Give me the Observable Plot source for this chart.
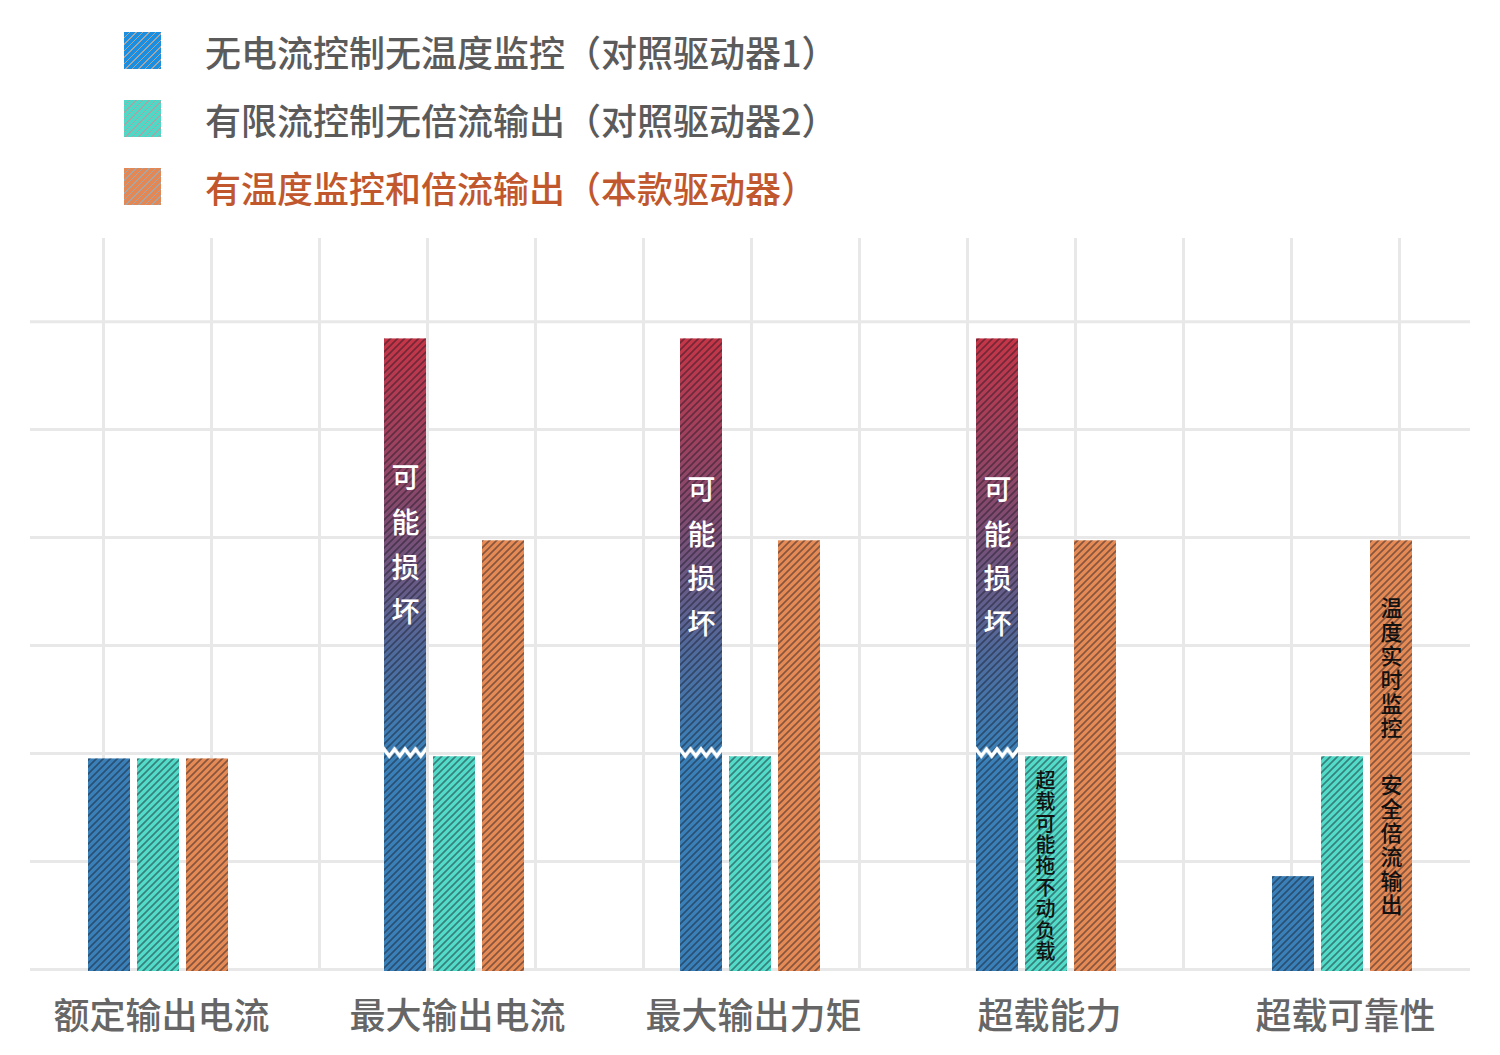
<!DOCTYPE html>
<html><head><meta charset="utf-8">
<script src="https://cdn.jsdelivr.net/npm/d3@7"></script>
<script src="https://cdn.jsdelivr.net/npm/@observablehq/plot@0.6"></script>
<style>
body{margin:0;background:#fff;font-family:"Noto Sans CJK SC","Noto Sans",sans-serif;}
#wrap{position:relative;width:1500px;height:1055px;overflow:hidden;}
.item{position:absolute;left:124px;height:37px;display:flex;align-items:center;white-space:nowrap;}
.sw{width:37px;height:37px;flex:none;}
.lab{margin-left:44px;font-size:36px;font-weight:500;color:#5b5b5b;}
.plot{position:absolute;left:0;top:225px;}
</style></head>
<body><div id="wrap"></div>
<script>
// ---- data ----
const categories = ["额定输出电流","最大输出电流","最大输出力矩","超载能力","超载可靠性"];
const seriesNames = ["无电流控制无温度监控（对照驱动器1）","有限流控制无倍流输出（对照驱动器2）","有温度监控和倍流输出（本款驱动器）"];
const seriesColors = ["#3a80b8","#52dbc8","#e58a55"];
const legendColors = ["#1a8ee0","#4fd8c6","#e38754"];
const legendTextColors = ["#5b5b5b","#5b5b5b","#c1572d"];
const driver1 = [1.95, 2.0, 2.0, 2.0, 0.86];
const driver1Risk = [null, 5.84, 5.84, 5.84, null];
const driver2 = [1.95, 1.97, 1.97, 1.97, 1.97];
const driver3 = [1.95, 3.97, 3.97, 3.97, 3.97];
const riskLabel = "可能损坏";
const riskLabelY = [null, 3.97, 3.86, 3.86, null];
const overloadNote = "超载可能拖不动负载";
const overloadNoteY = 0.954;
const reliabilityNotes = ["温度实时监控","安全倍流输出"];
const reliabilityNotesY = [2.79, 1.148];
const gridX = d3.range(0, 13);
const gridY = d3.range(0, 7);
const yMax = 6.77;

// ---- legend ----
const wrap = document.getElementById("wrap");
seriesNames.forEach((name, i) => {
  const it = document.createElement("div");
  it.className = "item";
  it.style.top = (32 + i * 68) + "px";
  const sw = document.createElement("div");
  sw.className = "sw";
  sw.style.background = `repeating-linear-gradient(135deg, ${legendColors[i]} 0px, ${legendColors[i]} 3.6px, rgba(0,0,0,0.35) 3.6px, rgba(0,0,0,0.35) 4.6px)`;
  const lab = document.createElement("div");
  lab.className = "lab";
  lab.textContent = name;
  lab.style.color = legendTextColors[i];
  it.append(sw, lab);
  wrap.append(it);
});

// ---- layout constants ----
const W = 1500, H = 830, mTop = 13, mBottom = 86;
const step = (W - 20) / categories.length, bw = 42, offs = [-49, 0, 49];
const ins = s => { const c = step / 2 + offs[s]; return {insetLeft: c - bw / 2, insetRight: step - c - bw / 2}; };

// ---- grid plot ----
const grid = Plot.plot({
  width: W, height: H, marginTop: mTop, marginBottom: mBottom, marginLeft: 30, marginRight: 30,
  x: {type: "linear", domain: [-73 / 108, 1367 / 108], axis: null},
  y: {domain: [0, yMax], axis: null},
  marks: [
    Plot.ruleX(gridX, {stroke: "#e8e8e8", strokeWidth: 3}),
    Plot.ruleY(gridY, {stroke: "#e8e8e8", strokeWidth: 3})
  ]
});
grid.classList.add("plot");
wrap.append(grid);

// ---- bars ----
const rows = vals => categories.map((c, i) => ({cat: c, y1: 0, y2: vals[i]})).filter(d => d.y2 != null);
const riskRows = categories.map((c, i) => ({cat: c, y1: driver1[i], y2: driver1Risk[i]})).filter(d => d.y2 != null);
const breakHalf = 7 / 108;
const breakRows = riskRows.map(d => ({cat: d.cat, y1: d.y1 - breakHalf, y2: d.y1 + breakHalf}));
const riskText = categories.map((c, i) => ({cat: c, y: riskLabelY[i]})).filter(d => d.y != null);

const series = [driver1, driver2, driver3];
const barMarks = [];
series.forEach((vals, s) => {
  barMarks.push(Plot.barY(rows(vals), {x: "cat", y1: "y1", y2: "y2", fill: seriesColors[s], insetBottom: -2, ...ins(s)}));
  barMarks.push(Plot.barY(rows(vals), {x: "cat", y1: "y1", y2: "y2", fill: "url(#hatch)", insetBottom: -2, ...ins(s)}));
});
barMarks.push(Plot.barY(riskRows, {x: "cat", y1: "y1", y2: "y2", fill: "url(#riskGrad)", ...ins(0)}));
barMarks.push(Plot.barY(riskRows, {x: "cat", y1: "y1", y2: "y2", fill: "url(#hatch)", ...ins(0)}));
barMarks.push(Plot.barY(breakRows, {x: "cat", y1: "y1", y2: "y2", fill: "url(#zigzag)", ...ins(0)}));

const bars = Plot.plot({
  width: W, height: H, marginTop: mTop, marginBottom: mBottom, marginLeft: 10, marginRight: 10,
  style: {background: "transparent", fontFamily: "'Noto Sans CJK SC', sans-serif"},
  x: {domain: categories, padding: 0, axis: null},
  y: {domain: [0, yMax], axis: null},
  marks: [
    ...barMarks,
    Plot.text(riskText, {x: "cat", y: "y", text: () => riskLabel.split("").join("\n"), dx: offs[0], fill: "#fff", fontSize: 28, lineHeight: 1.6, fontWeight: 500}),
    Plot.text([{cat: categories[3], y: overloadNoteY}], {x: "cat", y: "y", text: () => overloadNote.split("").join("\n"), dx: offs[1] - 1, fill: "#111", fontSize: 20, lineHeight: 1.07, fontWeight: 500}),
    Plot.text(reliabilityNotes.map((t, i) => ({cat: categories[4], y: reliabilityNotesY[i], t})), {x: "cat", y: "y", text: d => d.t.split("").join("\n"), dx: offs[2], fill: "#111", fontSize: 22, lineHeight: 1.09, fontWeight: 500}),
    Plot.axisX({tickSize: 0, tickPadding: 34, fontSize: 36, fill: "#666", fontWeight: 500, dx: 3, label: null})
  ]
});
bars.classList.add("plot");
const defs = d3.select(bars).insert("defs", ":first-child");
const hatch = defs.append("pattern").attr("id", "hatch").attr("patternUnits", "userSpaceOnUse").attr("width", 7).attr("height", 7);
hatch.append("path").attr("d", "M-1,1 L1,-1 M0,7 L7,0 M6,8 L8,6").attr("stroke", "rgba(20,20,30,0.45)").attr("stroke-width", 1.7).attr("fill", "none");
const grad = defs.append("linearGradient").attr("id", "riskGrad").attr("x1", 0).attr("y1", 0).attr("x2", 0).attr("y2", 1);
[[0, "#c63547"], [0.45, "#7d4c72"], [0.75, "#506a9c"], [1, "#3a80b8"]].forEach(([o, c]) => grad.append("stop").attr("offset", o).attr("stop-color", c));
const zig = defs.append("pattern").attr("id", "zigzag").attr("patternUnits", "objectBoundingBox").attr("width", 0.25).attr("height", 1);
zig.append("path").attr("d", "M-5.25,10 L0,3 L5.25,10 L10.5,3 L15.75,10").attr("stroke", "#fff").attr("stroke-width", 3.5).attr("fill", "none").attr("stroke-linejoin", "miter");
wrap.append(bars);
</script></body></html>
